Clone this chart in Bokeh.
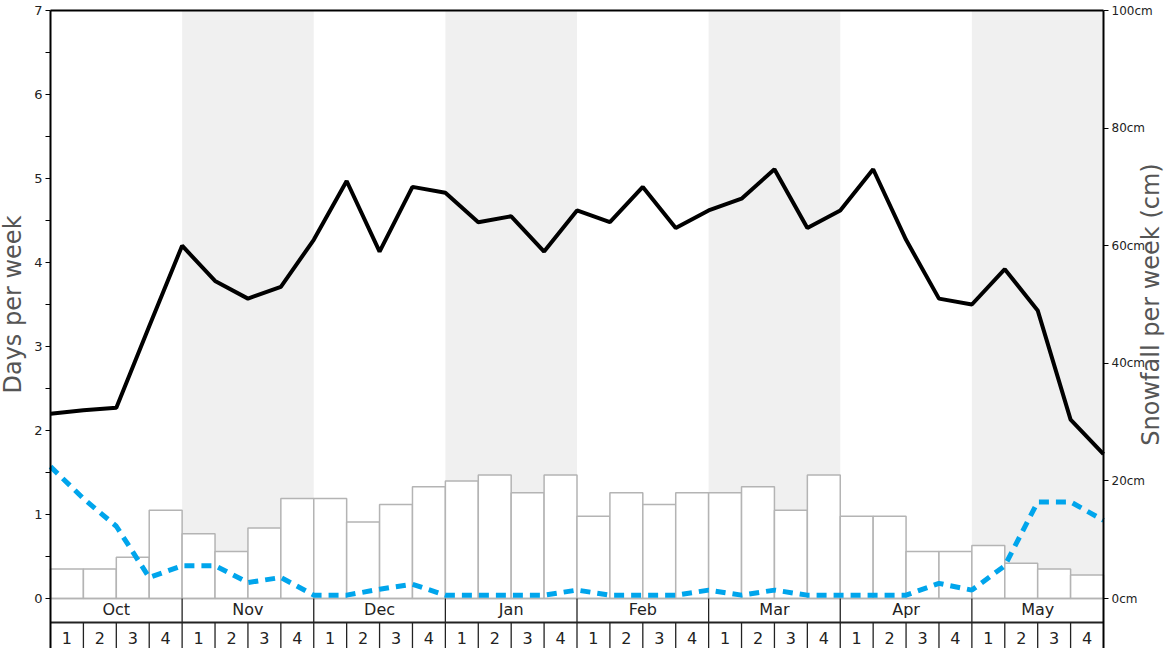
import numpy as np
from math import pi
from bokeh.plotting import figure
from bokeh.models import Range1d, LinearAxis, FixedTicker, PrintfTickFormatter
from bokeh.core.properties import value
from bokeh.embed import file_html
from bokeh.resources import INLINE

# ---------------- data ----------------
months = ["Oct", "Nov", "Dec", "Jan", "Feb", "Mar", "Apr", "May"]
week_labels = ["1", "2", "3", "4"]
left_ticks = [0, 1, 2, 3, 4, 5, 6, 7]
right_ticks = [0, 20, 40, 60, 80, 100]

# bars: snowfall per week (cm), right axis
snowfall_cm = [5, 5, 7, 15, 11, 8, 12, 17, 17, 13, 16, 19, 20, 21, 18, 21,
               14, 18, 16, 18, 18, 19, 15, 21, 14, 14, 8, 8, 9, 6, 5, 4]
# lines: days per week, left axis (values at week boundaries)
days_black = [2.2, 2.24, 2.27, 3.24, 4.2, 3.78, 3.57, 3.71, 4.27, 4.97, 4.13,
              4.9, 4.83, 4.48, 4.55, 4.13, 4.62, 4.48, 4.9, 4.41, 4.62, 4.76,
              5.11, 4.41, 4.62, 5.11, 4.27, 3.57, 3.5, 3.92, 3.43, 2.13, 1.72]
days_blue = [1.57, 1.19, 0.86, 0.25, 0.39, 0.39, 0.19, 0.25, 0.04, 0.04, 0.11,
             0.17, 0.04, 0.04, 0.04, 0.04, 0.1, 0.04, 0.04, 0.04, 0.1, 0.04,
             0.1, 0.04, 0.04, 0.04, 0.04, 0.18, 0.1, 0.39, 1.15, 1.15, 0.93]

# ---------------- layout (pixel geometry of the page) ----------------
W, H = 1168, 648
PLOT_L, PLOT_R = 50, 1103          # x of week 0 and of the last week boundary
PLOT_T, ZERO_Y = 10, 598           # y of the top (7 days) and of zero
MONTH_ROW_BOTTOM = 622             # y between month row and week row
FONT = "DejaVu Sans"
GREY_TXT = "#555555"
INK = "#222222"

n_weeks = len(snowfall_cm)
top_val = left_ticks[-1]
px_x = (PLOT_R - PLOT_L) / n_weeks
px_y = (ZERO_Y - PLOT_T) / top_val


def xd(px):  # page x -> data x
    return (px - PLOT_L) / px_x


def yd(py):  # page y -> data y (days)
    return (ZERO_Y - py) / px_y


XMIN, XMAX = xd(0), xd(W)
YMIN, YMAX = yd(H), yd(0)
YMID = yd(MONTH_ROW_BOTTOM)
CM = right_ticks[-1] / top_val

p = figure(width=W, height=H, output_backend="svg", toolbar_location=None,
           x_range=Range1d(XMIN, XMAX), y_range=Range1d(YMIN, YMAX),
           x_axis_location=None, y_axis_location=None,
           min_border=0, min_border_left=0, min_border_right=0,
           min_border_top=0, min_border_bottom=0)
p.xgrid.visible = False
p.ygrid.visible = False
p.background_fill_color = "white"
p.border_fill_color = "white"
p.outline_line_color = None
p.extra_y_ranges = {"cm": Range1d(YMIN * CM, YMAX * CM)}

# left axis (fixed at week 0)
ya = LinearAxis(fixed_location=0, bounds=(YMIN, top_val),
                ticker=FixedTicker(ticks=left_ticks,
                                   minor_ticks=[t + 0.5 for t in left_ticks[:-1]]))
ya.major_label_text_font = FONT
ya.major_label_text_font_size = "13px"
ya.major_label_text_color = INK
ya.major_tick_in = 0
ya.major_tick_out = 5
ya.minor_tick_in = 0
ya.minor_tick_out = 5
ya.axis_line_width = 2
ya.major_label_standoff = 3
p.add_layout(ya, "left")

# right axis (fixed at the last week boundary)
ra = LinearAxis(y_range_name="cm", fixed_location=n_weeks,
                bounds=(YMIN * CM, right_ticks[-1]),
                ticker=FixedTicker(ticks=right_ticks, minor_ticks=[]),
                formatter=PrintfTickFormatter(format="%dcm"))
ra.major_label_text_font = FONT
ra.major_label_text_font_size = "12px"
ra.major_label_text_color = INK
ra.major_tick_in = 0
ra.major_tick_out = 5
ra.axis_line_width = 2
ra.major_label_standoff = 3
p.add_layout(ra, "right")

# shaded month bands (Nov, Jan, Mar, May)
shade_idx = [1, 3, 5, 7]
p.quad(left=[4 * m for m in shade_idx], right=[4 * m + 4 for m in shade_idx],
       bottom=0, top=top_val, fill_color="#f0f0f0", line_color=None)

# bars
wk = np.arange(n_weeks)
p.quad(left=wk, right=wk + 1, bottom=0, top=snowfall_cm, y_range_name="cm",
       fill_color="white", line_color="#b4b4b4", line_width=1.5)

# frame top, baseline, row separators
p.segment(x0=[0], y0=[top_val], x1=[n_weeks], y1=[top_val], line_color="black", line_width=2)
p.segment(x0=[0], y0=[0], x1=[n_weeks], y1=[0], line_color="#b4b4b4", line_width=1.5)
p.segment(x0=[0], y0=[YMID], x1=[n_weeks], y1=[YMID], line_color=INK, line_width=2.2)
mb = [4 * m for m in range(1, len(months))]
p.segment(x0=mb, y0=[YMIN] * len(mb), x1=mb, y1=[0] * len(mb),
          line_color=INK, line_width=1.3)
wb = [w for w in range(1, n_weeks) if w % 4 != 0]
p.segment(x0=wb, y0=[YMIN] * len(wb), x1=wb, y1=[YMID] * len(wb),
          line_color=INK, line_width=1.3)

# month & week labels
p.text(x=[4 * m + 2 for m in range(len(months))], y=[yd(609)] * len(months),
       text=months, text_align="center", text_baseline="middle",
       text_font=value(FONT), text_font_size="16px", text_color=INK)
p.text(x=wk + 0.5, y=[yd(637.5)] * n_weeks,
       text=week_labels * len(months), text_align="center", text_baseline="middle",
       text_font=value(FONT), text_font_size="16px", text_color=INK)

# lines
xb = np.arange(len(days_black))
p.line(x=xb, y=days_blue, line_color="#00a5ec", line_width=5, line_dash="10 7")
p.line(x=xb, y=days_black, line_color="black", line_width=4)

# axis titles (reading bottom-to-top, centred on the 0..7 span)
p.text(x=[xd(12)], y=[top_val / 2], text=["Days per week"], angle=pi / 2,
       text_align="center", text_baseline="alphabetic",
       text_font=value(FONT), text_font_size="24px", text_color=GREY_TXT)
p.text(x=[xd(1150)], y=[top_val / 2], text=["Snowfall per week (cm)"], angle=pi / 2,
       text_align="center", text_baseline="alphabetic",
       text_font=value(FONT), text_font_size="24px", text_color=GREY_TXT)

open("out.html", "w").write(file_html(p, INLINE))
